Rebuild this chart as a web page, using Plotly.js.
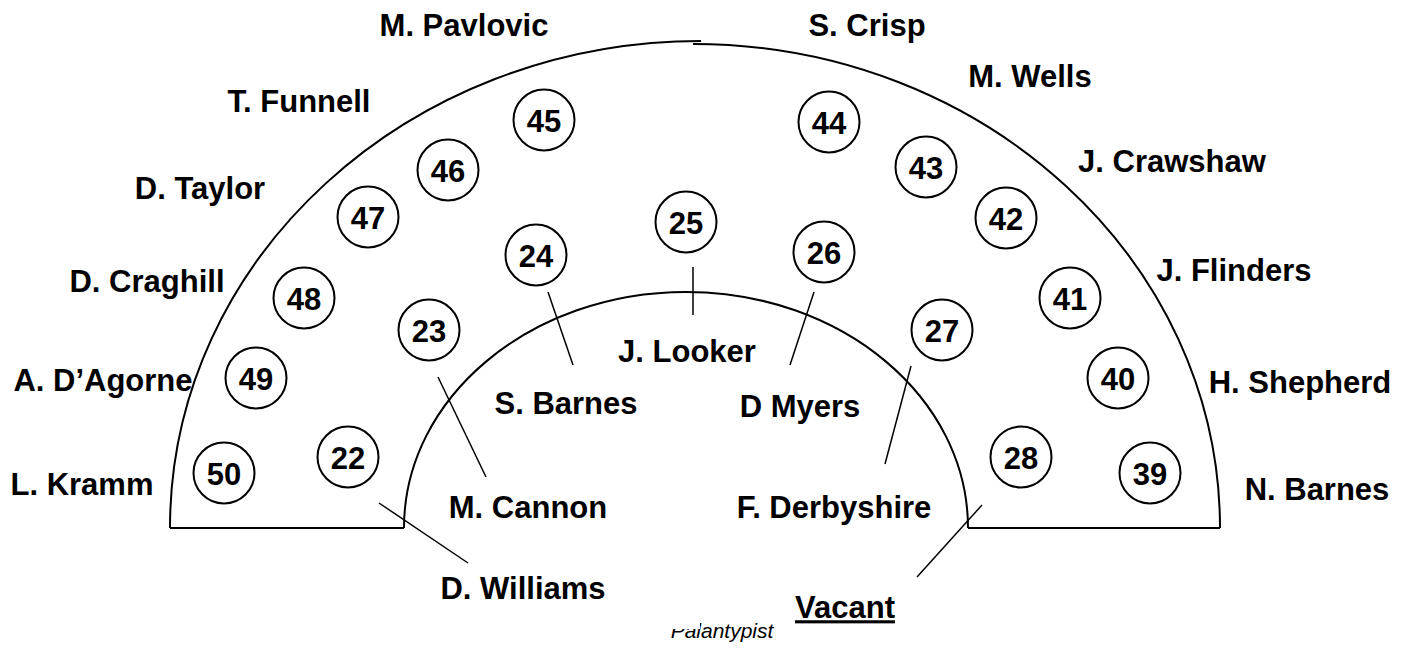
<!DOCTYPE html>
<html>
<head>
<meta charset="utf-8">
<script src="https://cdn.plot.ly/plotly-3.0.1.min.js"></script>
<style>html,body{margin:0;padding:0;background:#fff;}#chart{width:1407px;height:648px;}</style>
</head>
<body>
<div id="chart"></div>
<script>
// Seat numbers and their positions on the floor plan (pixel-space data units)
const seatNum = ["50","49","48","47","46","45","22","23","24","25","26","27","28","44","43","42","41","40","39"];
const seatX   = [224, 256, 304, 368, 448, 544, 348, 429, 536, 686, 824, 942, 1021, 829, 926, 1006, 1070, 1118, 1150];
const seatY   = [473, 378, 298, 217, 170, 120, 457, 330, 255, 222, 252, 330, 457, 122, 167, 218, 298, 378, 473];

// Member names and label positions
const names = ["M. Pavlovic","S. Crisp","M. Wells","J. Crawshaw","J. Flinders","H. Shepherd","N. Barnes",
               "T. Funnell","D. Taylor","D. Craghill","A. D\u2019Agorne","L. Kramm",
               "S. Barnes","J. Looker","D Myers","M. Cannon","F. Derbyshire","D. Williams","<u>Vacant</u>"];
const nameX = [464, 867, 1030, 1172, 1234, 1300, 1317, 299, 200, 147, 103, 82, 566, 687, 800, 528, 834, 523, 845];
const nameY = [25, 25, 76, 161, 270, 382, 489, 101, 188, 281, 380, 484, 403, 351, 406, 507, 507, 588, 607];

// Leader lines from inner seats to their names
const leadX0 = [379, 438, 548, 693, 814, 911, 982];
const leadY0 = [503, 377, 292, 267, 292, 366, 505];
const leadX1 = [468, 486, 573, 693, 790, 885, 917];
const leadY1 = [563, 477, 365, 315, 365, 464, 577];

const footer = ["Palantypist"];
const footerX = [722];
const footerY = [629];

const NAME_SHIFT = 3.5, NUM_SHIFT = 4;

const lx = [], ly = [];
for (let i = 0; i < leadX0.length; i++) {
  lx.push(leadX0[i], leadX1[i], null);
  ly.push(leadY0[i], leadY1[i], null);
}

const FONT = 'Arial, "Liberation Sans", sans-serif';
const K = 0.5523;
function quarter(cx, cy, rx, ry, left) {
  if (left) {
    return `M ${cx - rx},${cy} C ${cx - rx},${cy - K * ry} ${cx - K * rx},${cy - ry} ${cx},${cy - ry}`;
  }
  return `M ${cx},${cy - ry} C ${cx + K * rx},${cy - ry} ${cx + rx},${cy - K * ry} ${cx + rx},${cy}`;
}

const traces = [
  {x: lx, y: ly, mode: 'lines', line: {color: '#000', width: 1.5}, hoverinfo: 'skip'},
  {x: seatX, y: seatY, mode: 'markers',
   marker: {symbol: 'circle', size: 61, color: '#fff', line: {color: '#000', width: 2}}, hoverinfo: 'skip'},
  {x: seatX, y: seatY.map(v => v + NUM_SHIFT), text: seatNum, mode: 'text', textposition: 'middle center',
   textfont: {family: FONT, size: 31, color: '#000', weight: 'bold'}, hoverinfo: 'skip'},
  {x: nameX, y: nameY.map(v => v + NAME_SHIFT), text: names, mode: 'text', textposition: 'middle center',
   textfont: {family: FONT, size: 31, color: '#000', weight: 'bold'}, hoverinfo: 'skip'},
  {x: footerX, y: footerY.map(v => v + NAME_SHIFT), text: footer, mode: 'text', textposition: 'middle center',
   textfont: {family: FONT, size: 21, color: '#000', style: 'italic'}, hoverinfo: 'skip'}
];

const lineStyle = {color: '#000', width: 2};
const shapes = [
  {type: 'path', path: quarter(701, 528, 531, 487, true), line: lineStyle, layer: 'below'},
  {type: 'path', path: quarter(693, 528, 527, 484, false), line: lineStyle, layer: 'below'},
  {type: 'path', path: quarter(686, 528, 282, 236, true), line: lineStyle, layer: 'below'},
  {type: 'path', path: quarter(686, 528, 282, 236, false), line: lineStyle, layer: 'below'},
  {type: 'line', x0: 170, y0: 528, x1: 404, y1: 528, line: lineStyle, layer: 'below'},
  {type: 'line', x0: 968, y0: 528, x1: 1220, y1: 528, line: lineStyle, layer: 'below'},
  {type: 'rect', x0: 650, y0: 598, x1: 700, y1: 629, fillcolor: '#fff', line: {width: 0}, layer: 'above'}
];

const layout = {
  width: 1407, height: 648,
  margin: {l: 0, r: 0, t: 0, b: 0},
  paper_bgcolor: '#fff', plot_bgcolor: '#fff',
  showlegend: false, hovermode: false,
  xaxis: {range: [0, 1407], visible: false, fixedrange: true},
  yaxis: {range: [648, 0], visible: false, fixedrange: true},
  shapes: shapes
};

Plotly.newPlot('chart', traces, layout, {displayModeBar: false, staticPlot: true});
</script>
</body>
</html>
